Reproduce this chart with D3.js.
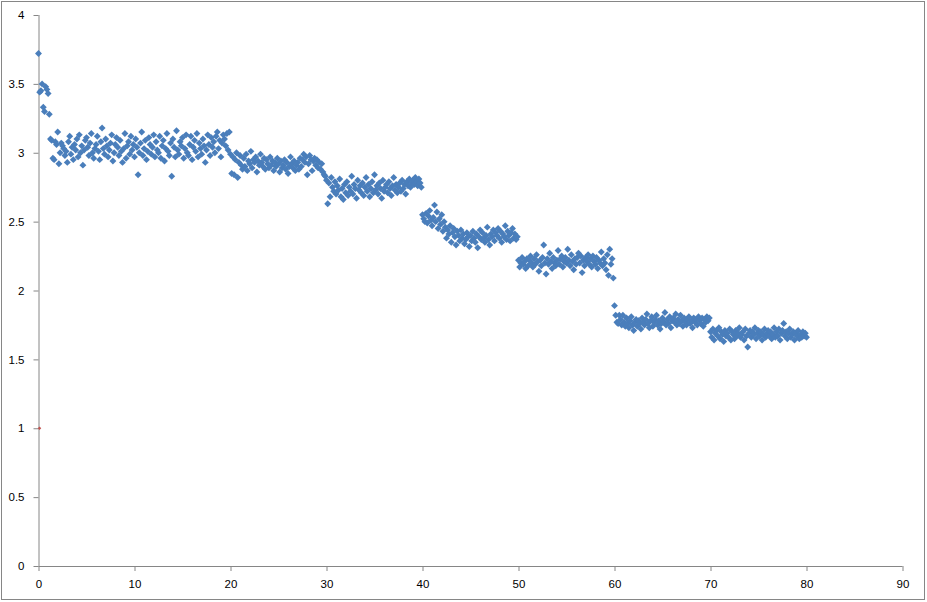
<!DOCTYPE html>
<html>
<head>
<meta charset="utf-8">
<script src="https://cdn.jsdelivr.net/npm/d3@7"></script>
<style>
  html, body { margin: 0; padding: 0; background: #fff; }
  svg { display: block; }
  .tick text { font-family: "Liberation Sans", Arial, sans-serif; font-size: 11.5px; fill: #000; }
</style>
</head>
<body>
<svg id="chart" width="927" height="602"></svg>
<script>
// ---- data ----
const xTicks = [0, 10, 20, 30, 40, 50, 60, 70, 80, 90];
const yTicks = [0, 0.5, 1, 1.5, 2, 2.5, 3, 3.5, 4];
const sampleStep = 0.125; // x spacing between successive samples

// segment starts (x) and y values
const seg0Start = 0;
const seg0 = [3.72, 3.44, 3.45, 3.50, 3.33, 3.30, 3.48, 3.46, 3.43, 3.28,
3.10, 3.09, 2.96, 2.95, 3.08, 3.06, 3.15, 2.92, 3.00, 3.07,
3.05, 3.03, 2.98, 3.01, 2.93, 3.08, 3.12, 2.99, 3.04, 2.95,
3.06, 3.02, 3.10, 2.97, 3.13, 3.00, 3.05, 2.91, 3.02, 3.09,
3.11, 3.04, 2.98, 3.07, 3.14, 3.00, 2.96, 3.03, 3.06, 3.12,
3.01, 2.95, 3.08, 3.18, 3.03, 2.99, 3.10, 3.05, 2.97, 3.02,
3.07, 3.13, 2.94, 3.00, 3.06, 3.11, 3.04, 2.98, 3.09, 3.01,
2.93, 3.03, 3.14, 2.96, 3.05, 3.08, 2.99, 3.12, 3.02, 3.06,
2.97, 3.10, 3.04, 2.84, 3.00, 3.07, 3.15, 2.98, 3.03, 3.09,
2.95, 3.01, 3.11, 3.06, 2.99, 3.04, 3.13, 2.97, 3.08, 3.02,
3.00, 3.12, 2.96, 3.05, 3.09, 2.94, 3.03, 3.14, 3.01, 2.98,
3.07, 2.83, 3.10, 3.04, 2.97, 3.16, 3.02, 2.99, 3.08, 3.05,
3.11, 2.96, 3.03, 3.13, 3.00, 2.98, 3.06, 3.12, 2.95, 3.04,
3.09, 3.01, 3.14, 2.97, 3.07, 3.03, 2.99, 3.10, 3.05, 2.93,
3.02, 3.13, 3.06, 2.98, 3.11, 3.04, 3.08, 3.00, 3.12, 3.15,
3.03, 3.09, 2.97, 3.07, 3.13, 3.10, 3.05, 3.14, 3.02, 3.15];

const seg1Start = 20;
const seg1 = [2.99, 2.85, 2.97, 2.84, 2.95, 3.00, 2.82, 2.93, 2.98, 2.91,
2.88, 2.96, 2.90, 2.99, 2.87, 2.94, 2.92, 3.01, 2.89, 2.95,
2.93, 2.97, 2.86, 2.94, 2.91, 2.99, 2.93, 2.90, 2.96, 2.88,
2.95, 2.92, 2.89, 2.97, 2.91, 2.94, 2.87, 2.93, 2.90, 2.96,
2.92, 2.86, 2.94, 2.89, 2.91, 2.95, 2.88, 2.93, 2.85, 2.90,
2.97, 2.92, 2.89, 2.94, 2.87, 2.91, 2.93, 2.88, 2.96, 2.90,
2.95, 2.99, 2.93, 2.97, 2.84, 2.92, 2.98, 2.95, 2.87, 2.94,
2.96, 2.91, 2.95, 2.89, 2.93, 2.88, 2.92, 2.86, 2.84, 2.83];

const seg2Start = 30;
const seg2 = [2.80, 2.63, 2.78, 2.68, 2.82, 2.75, 2.72, 2.79, 2.70, 2.76,
2.73, 2.81, 2.68, 2.74, 2.66, 2.77, 2.71, 2.79, 2.69, 2.75,
2.72, 2.83, 2.70, 2.77, 2.74, 2.67, 2.80, 2.73, 2.76, 2.71,
2.78, 2.69, 2.75, 2.82, 2.72, 2.77, 2.68, 2.74, 2.79, 2.71,
2.84, 2.73, 2.76, 2.70, 2.78, 2.74, 2.67, 2.80, 2.72, 2.75,
2.77, 2.71, 2.79, 2.74, 2.69, 2.76, 2.82, 2.73, 2.77, 2.71,
2.75, 2.78, 2.72, 2.80, 2.74, 2.77, 2.70, 2.79, 2.76, 2.81,
2.75, 2.78, 2.80, 2.77, 2.82, 2.79, 2.76, 2.81, 2.78, 2.75];

const seg3Start = 40;
const seg3 = [2.55, 2.52, 2.50, 2.56, 2.49, 2.54, 2.58, 2.51, 2.47, 2.53,
2.62, 2.50, 2.57, 2.45, 2.52, 2.48, 2.55, 2.43, 2.50, 2.46,
2.38, 2.44, 2.41, 2.47, 2.35, 2.42, 2.45, 2.39, 2.33, 2.43,
2.40, 2.36, 2.44, 2.38, 2.41, 2.34, 2.37, 2.42, 2.39, 2.32,
2.40, 2.36, 2.43, 2.38, 2.35, 2.41, 2.31, 2.39, 2.44, 2.37,
2.42, 2.38, 2.35, 2.40, 2.46, 2.37, 2.33, 2.41, 2.39, 2.44,
2.36, 2.42, 2.40, 2.45, 2.38, 2.43, 2.35, 2.41, 2.39, 2.47,
2.37, 2.43, 2.40, 2.36, 2.42, 2.45, 2.38, 2.41, 2.37, 2.39];

const seg4Start = 50;
const seg4 = [2.22, 2.17, 2.20, 2.24, 2.19, 2.21, 2.16, 2.23, 2.18, 2.22,
2.25, 2.20, 2.17, 2.23, 2.19, 2.26, 2.21, 2.14, 2.22, 2.18,
2.24, 2.33, 2.20, 2.12, 2.23, 2.19, 2.27, 2.21, 2.16, 2.24,
2.20, 2.18, 2.22, 2.29, 2.19, 2.23, 2.25, 2.17, 2.21, 2.24,
2.20, 2.30, 2.22, 2.18, 2.26, 2.21, 2.15, 2.23, 2.19, 2.24,
2.27, 2.20, 2.25, 2.13, 2.22, 2.18, 2.24, 2.21, 2.26, 2.19,
2.23, 2.17, 2.25, 2.21, 2.19, 2.24, 2.16, 2.22, 2.20, 2.28,
2.18, 2.23, 2.20, 2.15, 2.26, 2.11, 2.30, 2.19, 2.23, 2.09];

const seg5Start = 60;
const seg5 = [1.89, 1.82, 1.77, 1.76, 1.82, 1.79, 1.75, 1.82, 1.77, 1.74,
1.80, 1.76, 1.73, 1.78, 1.81, 1.75, 1.71, 1.77, 1.79, 1.74,
1.78, 1.76, 1.72, 1.80, 1.77, 1.75, 1.79, 1.83, 1.76, 1.73,
1.78, 1.81, 1.74, 1.77, 1.79, 1.82, 1.75, 1.78, 1.72, 1.76,
1.80, 1.77, 1.84, 1.75, 1.79, 1.76, 1.81, 1.73, 1.78, 1.80,
1.77, 1.83, 1.75, 1.79, 1.76, 1.82, 1.78, 1.74, 1.80, 1.77,
1.75, 1.79, 1.81, 1.76, 1.78, 1.73, 1.80, 1.77, 1.79, 1.75,
1.81, 1.78, 1.76, 1.80, 1.74, 1.79, 1.77, 1.81, 1.78, 1.80];

const seg6Start = 70;
const seg6 = [1.70, 1.66, 1.72, 1.64, 1.69, 1.71, 1.67, 1.73, 1.65, 1.70,
1.68, 1.63, 1.71, 1.67, 1.69, 1.66, 1.72, 1.64, 1.70, 1.68,
1.65, 1.71, 1.67, 1.69, 1.73, 1.66, 1.68, 1.70, 1.64, 1.72,
1.67, 1.59, 1.69, 1.71, 1.66, 1.70, 1.68, 1.73, 1.65, 1.69,
1.71, 1.67, 1.70, 1.64, 1.68, 1.72, 1.66, 1.69, 1.71, 1.67,
1.70, 1.65, 1.68, 1.73, 1.66, 1.70, 1.67, 1.72, 1.64, 1.69,
1.71, 1.76, 1.67, 1.70, 1.65, 1.69, 1.72, 1.66, 1.68, 1.70,
1.64, 1.69, 1.67, 1.71, 1.65, 1.68, 1.66, 1.70, 1.67, 1.69,
1.66];

// second series: one red point
const redX = [0];
const redY = [1];

// ---- build points ----
const segments = [
  [seg0Start, seg0], [seg1Start, seg1], [seg2Start, seg2], [seg3Start, seg3],
  [seg4Start, seg4], [seg5Start, seg5], [seg6Start, seg6]
];
const bluePts = [];
segments.forEach(([x0, ys]) => ys.forEach((v, i) => bluePts.push({ x: x0 + i * sampleStep, y: v })));
const redPts = redX.map((v, i) => ({ x: v, y: redY[i] }));

// ---- chart ----
const svg = d3.select("#chart");
const mLeft = 38.5, mRight = 902.5, mTop = 15, mBottom = 566;

svg.append("rect").attr("x", 1.5).attr("y", 1.5).attr("width", 923).attr("height", 598)
  .attr("fill", "#fff").attr("stroke", "#868686").attr("stroke-width", 1);

const xScale = d3.scaleLinear().domain([0, 90]).range([mLeft, mRight]);
const yScale = d3.scaleLinear().domain([0, 4]).range([mBottom, mTop]);

const xAxis = d3.axisBottom(xScale).tickValues(xTicks).tickSize(5).tickPadding(9).tickFormat(d3.format("d"));
const yAxis = d3.axisLeft(yScale).tickValues(yTicks).tickSize(5).tickPadding(9).tickFormat(d => String(d));

const gx = svg.append("g").attr("transform", `translate(0,${mBottom})`).call(xAxis);
const gy = svg.append("g").attr("transform", `translate(${mLeft},0)`).call(yAxis);
[gx, gy].forEach(g => {
  g.select(".domain").attr("stroke", "#868686");
  g.selectAll(".tick line").attr("stroke", "#868686");
  g.attr("font-family", null).attr("font-size", null);
});
gx.select(".domain").attr("d", `M${mLeft},0.5H${mRight}`);
gy.select(".domain").attr("d", `M0.5,${mBottom}V${mTop}`);

const diamond = d3.symbol().type(d3.symbolSquare).size(24);
svg.append("g").selectAll("path").data(bluePts).join("path")
  .attr("d", diamond)
  .attr("transform", d => `translate(${xScale(d.x)},${yScale(d.y)}) rotate(45)`)
  .attr("fill", "#4A7EBB");

svg.append("g").selectAll("path").data(redPts).join("path")
  .attr("d", d3.symbol().type(d3.symbolSquare).size(6))
  .attr("transform", d => `translate(${xScale(d.x) + 1},${yScale(d.y)}) rotate(45)`)
  .attr("fill", "#C0504D");
</script>
</body>
</html>
